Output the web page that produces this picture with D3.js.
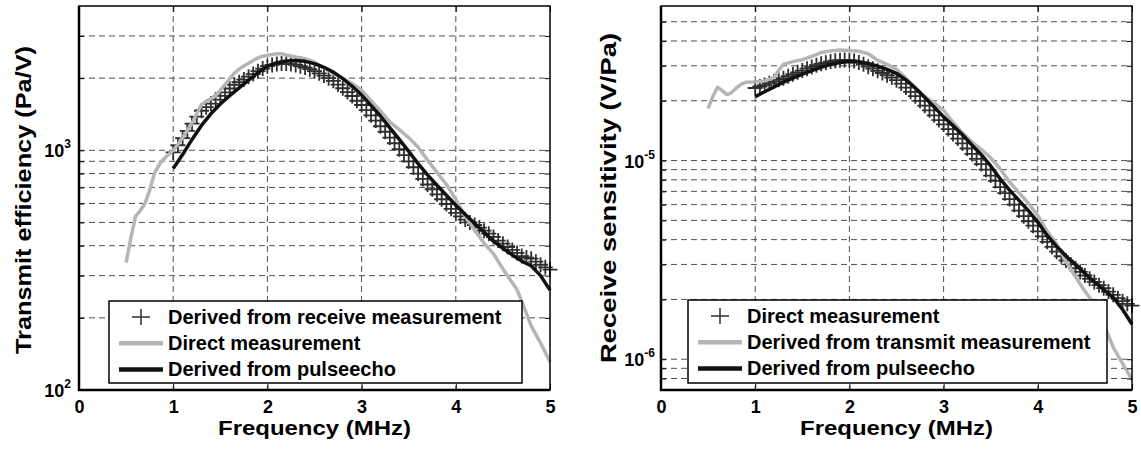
<!DOCTYPE html>
<html lang="en">
<head>
<meta charset="utf-8">
<title>Transmit efficiency and receive sensitivity</title>
<script src="https://cdn.jsdelivr.net/npm/d3@7"></script>
<style>
  body { margin: 0; background: #fff; }
  svg { display: block; font-family: "Liberation Sans", Arial, sans-serif; font-weight: bold; }
  .grid line { stroke: #505050; stroke-width: 1; stroke-dasharray: 6,4; }
  .tick line { stroke: #000; }
  .domain { display: none; }
</style>
</head>
<body>
<svg id="chart" width="1141" height="449"></svg>
<script>
// ---- data (MHz on x) ----
var xTicks = [0, 1, 2, 3, 4, 5];

// the + markers, same frequency grid in both panels
var plusFreq = [1.00,1.05,1.10,1.15,1.20,1.25,1.30,1.35,1.40,1.45,1.50,1.55,1.60,1.65,1.70,1.75,1.80,1.85,1.90,1.95,
  2.00,2.05,2.10,2.15,2.20,2.25,2.30,2.35,2.40,2.45,2.50,2.55,2.60,2.65,2.70,2.75,2.80,2.85,2.90,2.95,
  3.00,3.05,3.10,3.15,3.20,3.25,3.30,3.35,3.40,3.45,3.50,3.55,3.60,3.65,3.70,3.75,3.80,3.85,3.90,3.95,
  4.00,4.05,4.10,4.15,4.20,4.25,4.30,4.35,4.40,4.45,4.50,4.55,4.60,4.65,4.70,4.75,4.80,4.85,4.90,4.95,5.00];

// pulse-echo curves, same grid in both panels
var echoFreq = [1.0,1.1,1.2,1.3,1.4,1.5,1.6,1.7,1.8,1.9,2.0,2.1,2.2,2.3,2.4,2.5,2.6,2.7,2.8,2.9,
  3.0,3.1,3.2,3.3,3.4,3.5,3.6,3.7,3.8,3.9,4.0,4.1,4.2,4.3,4.4,4.5,4.6,4.7,4.8,4.9,5.0];

// left panel: transmit efficiency (Pa/V)
var txFromReceive = [980,1050,1125,1205,1291,1383,1462,1514,1567,1626,1686,1746,1811,1875,1923,1972,2028,2080,2138,2193,
  2244,2270,2290,2300,2300,2290,2270,2245,2215,2180,2140,2095,2050,2000,1950,1880,1815,1750,1685,1610,
  1545,1470,1400,1330,1260,1195,1130,1070,1010,955,900,850,800,760,720,688,655,625,597,570,
  548,530,514,500,488,476,462,449,435,420,408,395,384,373,362,357,353,343,333,325,318];

var txDirectFreq = [0.50,0.55,0.60,0.65,0.70,0.75,0.80,0.85,0.90,0.95,1.00,1.05,1.10,1.15,1.20,1.25,1.30,1.35,1.40,1.45,
  1.50,1.55,1.60,1.65,1.70,1.75,1.80,1.85,1.90,1.95,2.00,2.05,2.10,2.15,2.20,2.30,2.40,2.50,2.60,2.70,
  2.80,2.90,3.00,3.10,3.20,3.30,3.40,3.50,3.60,3.70,3.80,3.90,4.00,4.10,4.20,4.30,4.40,4.50,4.60,4.65,
  4.70,4.80,4.90,5.00];
var txDirect = [340,430,530,560,600,680,800,870,920,960,1000,1060,1130,1210,1300,1420,1550,1600,1640,1690,
  1780,1880,1990,2100,2180,2250,2310,2370,2430,2470,2490,2510,2530,2530,2500,2450,2410,2330,2210,2090,
  1990,1900,1780,1610,1460,1310,1220,1130,1030,910,810,720,625,530,465,410,370,320,280,262,
  235,185,157,131];

var txFromEcho = [839,960,1110,1270,1420,1560,1690,1820,1960,2110,2240,2320,2360,2370,2350,2300,2220,2120,1990,1850,
  1700,1540,1390,1240,1110,990,880,790,715,650,590,540,495,455,418,390,366,345,330,300,261];

// right panel: receive sensitivity (V/Pa)
var rxDirect = [2.32e-5,2.36e-5,2.40e-5,2.45e-5,2.50e-5,2.55e-5,2.60e-5,2.66e-5,2.72e-5,2.78e-5,2.84e-5,2.90e-5,2.96e-5,3.02e-5,3.07e-5,3.11e-5,3.15e-5,3.18e-5,3.20e-5,3.21e-5,
  3.20e-5,3.17e-5,3.12e-5,3.05e-5,2.97e-5,2.90e-5,2.83e-5,2.76e-5,2.69e-5,2.62e-5,2.54e-5,2.44e-5,2.33e-5,2.22e-5,2.11e-5,2.00e-5,1.89e-5,1.79e-5,1.69e-5,1.60e-5,
  1.52e-5,1.44e-5,1.36e-5,1.29e-5,1.22e-5,1.15e-5,1.08e-5,1.02e-5,9.6e-6,9.0e-6,8.4e-6,7.9e-6,7.35e-6,6.85e-6,6.4e-6,6.0e-6,5.6e-6,5.25e-6,4.95e-6,4.7e-6,
  4.4e-6,4.15e-6,3.9e-6,3.68e-6,3.48e-6,3.3e-6,3.14e-6,3.0e-6,2.87e-6,2.75e-6,2.64e-6,2.54e-6,2.45e-6,2.36e-6,2.28e-6,2.19e-6,2.11e-6,2.03e-6,1.96e-6,1.90e-6,1.86e-6];

var rxFromTxFreq = [0.50,0.55,0.60,0.65,0.70,0.75,0.80,0.85,0.90,1.00,1.10,1.20,1.25,1.30,1.40,1.50,1.60,1.70,1.80,1.90,
  2.00,2.10,2.20,2.30,2.40,2.50,2.60,2.70,2.80,2.90,3.00,3.10,3.20,3.30,3.40,3.50,3.60,3.70,3.80,3.90,
  4.00,4.10,4.20,4.30,4.40,4.50,4.60,4.70,4.80,4.90,5.00];
var rxFromTx = [1.83e-5,2.1e-5,2.34e-5,2.25e-5,2.15e-5,2.2e-5,2.32e-5,2.42e-5,2.48e-5,2.49e-5,2.52e-5,2.62e-5,2.85e-5,3.05e-5,3.15e-5,3.22e-5,3.35e-5,3.50e-5,3.56e-5,3.60e-5,
  3.58e-5,3.55e-5,3.45e-5,3.20e-5,3.05e-5,2.88e-5,2.60e-5,2.32e-5,2.10e-5,1.95e-5,1.79e-5,1.56e-5,1.38e-5,1.24e-5,1.14e-5,1.03e-5,9.1e-6,7.8e-6,6.9e-6,6.1e-6,
  5.3e-6,4.4e-6,3.8e-6,3.1e-6,2.6e-6,2.2e-6,1.9e-6,1.5e-6,1.15e-6,9.5e-7,7.9e-7];

var rxFromEcho = [2.10e-5,2.22e-5,2.35e-5,2.48e-5,2.60e-5,2.72e-5,2.84e-5,2.95e-5,3.05e-5,3.12e-5,3.15e-5,3.14e-5,3.08e-5,2.99e-5,2.88e-5,2.75e-5,2.55e-5,2.32e-5,2.08e-5,1.86e-5,
  1.66e-5,1.50e-5,1.35e-5,1.20e-5,1.07e-5,9.4e-6,8.1e-6,7.1e-6,6.3e-6,5.6e-6,4.9e-6,4.2e-6,3.7e-6,3.3e-6,3.0e-6,2.7e-6,2.45e-6,2.24e-6,2.05e-6,1.78e-6,1.50e-6];

var txGrid = [200,300,400,500,600,700,800,900,1000,2000,3000];
var rxGrid = [8e-7,9e-7,1e-6,2e-6,3e-6,4e-6,5e-6,6e-6,7e-6,8e-6,9e-6,1e-5,2e-5,3e-5,4e-5,5e-5];

var svg = d3.select("#chart");
var GRAY = "#b5b5b5", BLACK = "#111", PLUS = "#2e2e2e";
var plusPath = "M-7.5,0H7.5M0,-7.5V7.5";

function drawPanel(cfg) {
  var top = 6, bottom = 390;
  var x = d3.scaleLinear().domain([0, 5]).range([cfg.left, cfg.right]);
  var y = d3.scaleLog().domain(cfg.yDomain).range([bottom, top]);
  var g = svg.append("g");

  // dashed grid
  var grid = g.append("g").attr("class", "grid");
  grid.selectAll(".hy").data(cfg.yGrid).join("line")
    .attr("x1", cfg.left).attr("x2", cfg.right)
    .attr("y1", d => y(d)).attr("y2", d => y(d));
  grid.selectAll(".vx").data([1, 2, 3, 4]).join("line")
    .attr("x1", d => x(d)).attr("x2", d => x(d))
    .attr("y1", top).attr("y2", bottom);

  // + markers
  g.append("g").selectAll("path").data(cfg.plusVals).join("path")
    .attr("d", plusPath)
    .attr("transform", (d, i) => "translate(" + x(plusFreq[i]) + "," + y(d) + ")")
    .attr("stroke", PLUS).attr("stroke-width", 1.8).attr("fill", "none");

  var line = d3.line().x(d => x(d[0])).y(d => y(d[1]));
  g.append("path")
    .datum(d3.zip(cfg.grayFreq, cfg.grayVals))
    .attr("d", line).attr("fill", "none")
    .attr("stroke", GRAY).attr("stroke-width", 3.5).attr("stroke-linejoin", "round");
  g.append("path")
    .datum(d3.zip(echoFreq, cfg.echoVals))
    .attr("d", line).attr("fill", "none")
    .attr("stroke", BLACK).attr("stroke-width", 3.5).attr("stroke-linejoin", "round");

  // ticks (inside)
  g.append("g").attr("transform", "translate(0," + bottom + ")")
    .call(d3.axisBottom(x).tickValues(xTicks).tickFormat(d3.format("d"))
      .tickSizeInner(-6).tickSizeOuter(0).tickPadding(10))
    .call(a => a.selectAll("text").attr("font-size", 18).attr("font-family", "inherit")
      .attr("font-weight", "bold").attr("fill", "#000"));
  g.append("g").attr("transform", "translate(0," + top + ")")
    .call(d3.axisTop(x).tickValues(xTicks).tickSizeInner(-6).tickSizeOuter(0).tickFormat(""));
  g.append("g").attr("transform", "translate(" + cfg.left + ",0)")
    .call(d3.axisLeft(y).tickValues(cfg.yGrid).tickSizeInner(-5).tickSizeOuter(0).tickFormat(""));
  g.append("g").attr("transform", "translate(" + cfg.right + ",0)")
    .call(d3.axisRight(y).tickValues(cfg.yGrid).tickSizeInner(-5).tickSizeOuter(0).tickFormat(""));

  // decade labels 10^n
  var lab = g.append("g").selectAll("text").data(cfg.decades).join("text")
    .attr("x", cfg.left - cfg.labGap).attr("y", d => y(Math.pow(10, d)) + 7)
    .attr("text-anchor", "end").attr("font-size", 18);
  lab.append("tspan").text("10");
  lab.append("tspan").attr("dy", -9).attr("font-size", 12).text(d => String(d));

  // frame
  g.append("rect").attr("x", cfg.left).attr("y", top)
    .attr("width", cfg.right - cfg.left).attr("height", bottom - top)
    .attr("fill", "none").attr("stroke", "#000").attr("stroke-width", 1.5);
  g.append("path")
    .attr("d", "M" + cfg.left + "," + top + "V" + bottom + "H" + cfg.right)
    .attr("fill", "none").attr("stroke", "#000").attr("stroke-width", 2.5);

  // axis titles
  g.append("text").attr("x", (cfg.left + cfg.right) / 2).attr("y", 435)
    .attr("text-anchor", "middle").attr("font-size", 21)
    .attr("textLength", 193).attr("lengthAdjust", "spacingAndGlyphs")
    .text("Frequency (MHz)");
  g.append("text")
    .attr("transform", "translate(" + cfg.yTitleX + "," + cfg.yTitleY + ") rotate(-90)")
    .attr("text-anchor", "middle").attr("font-size", 22)
    .attr("textLength", cfg.yTitleLen).attr("lengthAdjust", "spacingAndGlyphs")
    .text(cfg.yTitle);

  // legend
  var L = cfg.legend;
  var lg = g.append("g").attr("transform", "translate(" + L.x + "," + L.y + ")");
  lg.append("rect").attr("width", L.w).attr("height", L.h)
    .attr("fill", "#fff").attr("stroke", "#000").attr("stroke-width", 1.5);
  var rows = lg.selectAll("g").data(L.items).join("g")
    .attr("transform", (d, i) => "translate(0," + (16 + i * 26.2) + ")");
  rows.filter(d => d.kind === "plus").append("path")
    .attr("d", "M-9,0H9M0,-8V8").attr("transform", "translate(32,0)")
    .attr("stroke", PLUS).attr("stroke-width", 1.5);
  rows.filter(d => d.kind !== "plus").append("line")
    .attr("x1", 10).attr("x2", 54)
    .attr("stroke", d => d.kind === "gray" ? GRAY : BLACK).attr("stroke-width", 4.5);
  rows.append("text").attr("x", 59).attr("y", 7).attr("font-size", 20).text(d => d.label);
}

drawPanel({
  left: 79, right: 550, yDomain: [100, 4000],
  yGrid: txGrid, decades: [2, 3], labGap: 8,
  plusVals: txFromReceive, grayFreq: txDirectFreq, grayVals: txDirect, echoVals: txFromEcho,
  yTitle: "Transmit efficiency (Pa/V)", yTitleX: 31, yTitleY: 200, yTitleLen: 308,
  legend: { x: 109, y: 301, w: 413, h: 82, items: [
    { kind: "plus", label: "Derived from receive measurement" },
    { kind: "gray", label: "Direct measurement" },
    { kind: "black", label: "Derived from pulseecho" }] }
});

drawPanel({
  left: 661, right: 1132, yDomain: [7e-7, 6e-5],
  yGrid: rxGrid, decades: [-6, -5], labGap: 6,
  plusVals: rxDirect, grayFreq: rxFromTxFreq, grayVals: rxFromTx, echoVals: rxFromEcho,
  yTitle: "Receive sensitivity (V/Pa)", yTitleX: 616, yTitleY: 198, yTitleLen: 330,
  legend: { x: 688, y: 300, w: 419, h: 83, items: [
    { kind: "plus", label: "Direct measurement" },
    { kind: "gray", label: "Derived from transmit measurement" },
    { kind: "black", label: "Derived from pulseecho" }] }
});
</script>
</body>
</html>
